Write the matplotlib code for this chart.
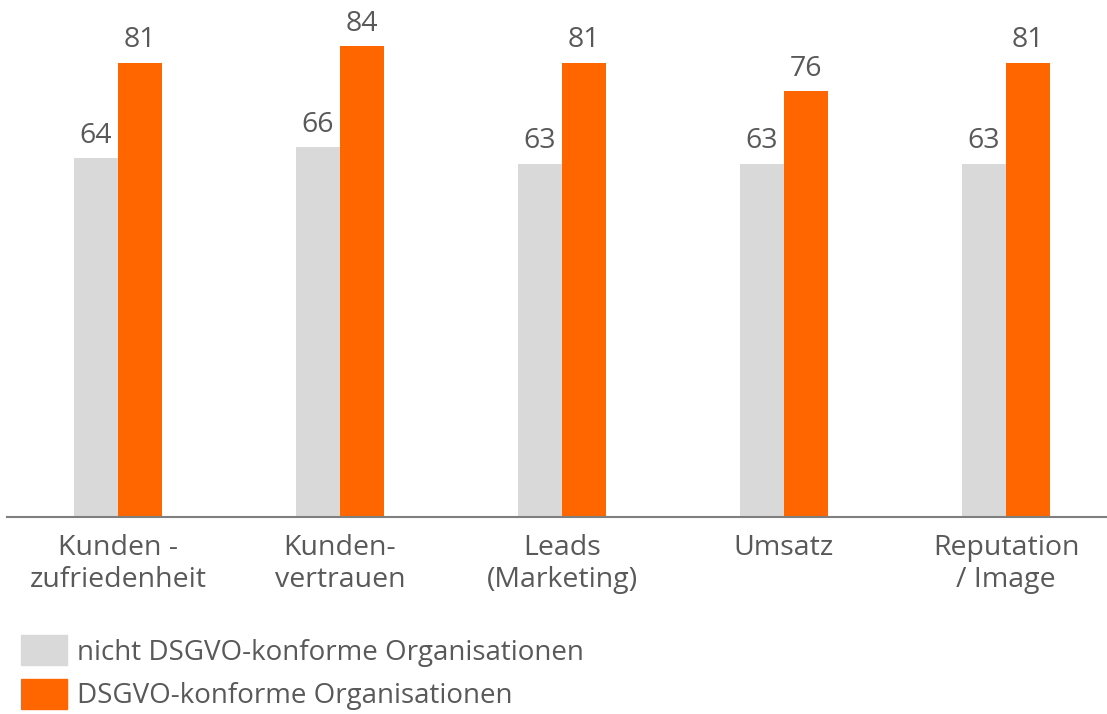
import numpy as np
import matplotlib.pyplot as plt
from matplotlib.patches import Patch

# Kategorien und Werte
categories = ["Kunden -\nzufriedenheit", "Kunden-\nvertrauen", "Leads\n(Marketing)",
              "Umsatz", "Reputation\n/ Image"]
nicht_konform = [64, 66, 63, 63, 63]
konform = [81, 84, 81, 76, 81]
series_names = ["nicht DSGVO-konforme Organisationen", "DSGVO-konforme Organisationen"]

GREY = "#d9d9d9"
ORANGE = "#ff6600"
TEXT = "#595959"

plt.rcParams['font.family'] = ['Open Sans', 'DejaVu Sans']

W, H = 1107, 714
fig = plt.figure(figsize=(W / 100, H / 100), dpi=100)

# axes in pixel positions: baseline at y=517, group spacing 222 px
left_px, right_px = 7, 7 + 1110
bottom_px = 517
px_per_unit = 5.607
ylim_top = 90
ax = fig.add_axes([left_px / W, (H - bottom_px) / H,
                   (right_px - left_px) / W, ylim_top * px_per_unit / H])

x = np.arange(len(categories))
bw = 44 / 222
b1 = ax.bar(x - bw / 2, nicht_konform, bw, color=GREY)
b2 = ax.bar(x + bw / 2, konform, bw, color=ORANGE)

for bars, vals in ((b1, nicht_konform), (b2, konform)):
    for rect, v in zip(bars, vals):
        ax.annotate(str(v), (rect.get_x() + rect.get_width() / 2, rect.get_height()),
                    xytext=(0, 6), textcoords="offset points", ha="center", va="bottom",
                    fontsize=20.5, color=TEXT)

ax.set_xlim(-0.5, 4.5)
ax.set_ylim(0, ylim_top)
ax.set_xticks(x)
ax.set_xticklabels(categories, fontsize=20.5, color=TEXT, linespacing=1.2)
ax.tick_params(axis="x", length=0, pad=12)
ax.set_yticks([])
for s in ["top", "right", "left"]:
    ax.spines[s].set_visible(False)
ax.spines["bottom"].set_color("#7f7f7f")
ax.spines["bottom"].set_linewidth(1.5)
ax.patch.set_alpha(0)

handles = [Patch(color=GREY), Patch(color=ORANGE)]
leg = fig.legend(handles, series_names, loc="upper left",
                 bbox_to_anchor=(10 / W, 1 - 624 / H), frameon=False,
                 fontsize=20, handlelength=1.65, handleheight=1.3,
                 handletextpad=0.35, labelspacing=0.45, borderaxespad=0)
for t in leg.get_texts():
    t.set_color(TEXT)

fig.savefig("out.png", dpi=100)
